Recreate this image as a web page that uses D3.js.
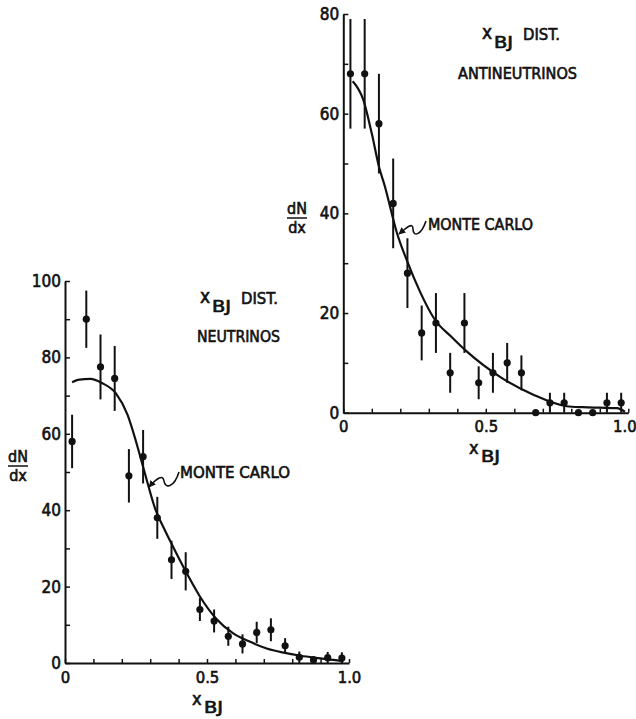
<!DOCTYPE html>
<html>
<head>
<meta charset="utf-8">
<script src="https://cdn.jsdelivr.net/npm/d3@7"></script>
<style>
  html, body { margin: 0; padding: 0; background: #fff; }
  svg text { font-family: "Liberation Sans Narrow", "DejaVu Sans Condensed", "Liberation Sans", sans-serif;
             fill: #111; stroke: #111; stroke-width: 0.6px; }
</style>
</head>
<body>
<svg id="chart" width="636" height="719"></svg>
<script>
// Bin centres in x_BJ (20 bins of width 0.05)
const binX = [0.025, 0.075, 0.125, 0.175, 0.225, 0.275, 0.325, 0.375, 0.425, 0.475,
              0.525, 0.575, 0.625, 0.675, 0.725, 0.775, 0.825, 0.875, 0.925, 0.975];

// Neutrino sample: dN/dx and its statistical error
const nuCounts = [58, 90, 77.5, 74.5, 49, 54, 38, 27, 24, 14, 11, 7, 5, 8, 8.7, 4.5, 1.5, 0.8, 1.4, 1.3];
const nuErrors = [7, 7.5, 8.5, 8.5, 7, 7, 5.5, 5, 5, 3, 3, 2.5, 2.5, 2.8, 3, 2, 1.5, 1, 1.5, 1.5];

// Antineutrino sample
const nubarCounts = [68, 68, 58, 42, 28, 16, 18, 8, 18, 6, 8, 10, 8, 0, 2, 2, 0, 0, 2, 2];
const nubarErrors = [11, 11, 10, 9, 7, 5.5, 6, 4, 6, 3.3, 4, 4, 3.5, 0, 2, 2, 0, 0, 2, 2];

// Monte Carlo predictions
const mcNuX = [0.025, 0.05, 0.09, 0.13, 0.18, 0.22, 0.25, 0.28, 0.317, 0.35, 0.38, 0.43,
               0.475, 0.53, 0.59, 0.65, 0.71, 0.77, 0.83, 0.89, 0.945, 0.98];
const mcNuY = [73.5, 74.2, 74.4, 73.3, 70.5, 65, 58, 50, 40.5, 35, 30.5, 23.3,
               17.4, 11.8, 7.9, 5.6, 3.8, 2.7, 1.9, 1.3, 0.8, 0.4];
const mcNubarX = [0.033, 0.07, 0.1, 0.125, 0.146, 0.17, 0.187, 0.222, 0.269, 0.322, 0.38,
                  0.433, 0.55, 0.667, 0.784, 0.841, 0.9, 0.96, 0.988];
const mcNubarY = [66.5, 62.8, 56, 49.4, 45.4, 40, 36.3, 30.7, 24.3, 18.6, 15.2,
                  12.3, 7.2, 3.6, 1.3, 1.1, 1.0, 0.9, 0.2];

// Axis ticks
const xTicks = [0, 0.1, 0.2, 0.3, 0.4, 0.5, 0.6, 0.7, 0.8, 0.9, 1.0];
const xTickLabels = ["0", "", "", "", "", "0.5", "", "", "", "", "1.0"];
const nuYTicks = [0, 10, 20, 30, 40, 50, 60, 70, 80, 90, 100];
const nubarYTicks = [0, 10, 20, 30, 40, 50, 60, 70, 80];

const svg = d3.select("#chart");

svg.append("defs").append("marker")
  .attr("id", "arrowhead")
  .attr("viewBox", "0 0 10 10")
  .attr("refX", 9).attr("refY", 5)
  .attr("markerWidth", 7).attr("markerHeight", 7)
  .attr("markerUnits", "userSpaceOnUse")
  .attr("orient", "auto")
  .append("path").attr("d", "M0,0 L10,5 L0,10 z").attr("fill", "#111");

function panel(cfg) {
  const x = d3.scaleLinear().domain([0, 1]).range(cfg.xRange);
  const y = d3.scaleLinear().domain([0, cfg.yMax]).range(cfg.yRange);
  const g = svg.append("g");

  // x axis: ticks point inward (up)
  const xa = g.append("g")
    .attr("transform", `translate(0,${y(0)})`)
    .call(d3.axisBottom(x).tickValues(xTicks).tickSize(-4).tickSizeOuter(0)
      .tickPadding(8).tickFormat((d, i) => xTickLabels[i]));
  // y axis: ticks point inward (right)
  const ya = g.append("g")
    .attr("transform", `translate(${x(0)},0)`)
    .call(d3.axisLeft(y).tickValues(cfg.yTicks).tickSize(-5).tickSizeOuter(0)
      .tickPadding(3).tickFormat(d => d % 20 === 0 ? d : ""));
  [xa, ya].forEach(a => {
    a.selectAll("path.domain").attr("stroke", "#111").attr("stroke-width", 2);
    a.selectAll(".tick line").attr("stroke", "#111").attr("stroke-width", 1.5);
    a.selectAll("text").attr("fill", "#111");
  });
  ya.selectAll("text").attr("dx", -1).attr("font-size", 17);
  xa.selectAll("text").attr("font-size", 16.5);
  // the "1.0" label sits against the right edge
  xa.selectAll(".tick text").filter((d, i) => xTickLabels[i] === "1.0").attr("dx", cfg.endShift);

  // Monte Carlo curve
  const line = d3.line().x(d => x(d[0])).y(d => y(d[1])).curve(d3.curveMonotoneX);
  g.append("path")
    .datum(cfg.mcX.map((v, i) => [v, cfg.mcY[i]]))
    .attr("d", line)
    .attr("fill", "none").attr("stroke", "#111").attr("stroke-width", 2.2);

  // error bars
  g.selectAll("line.err").data(binX).join("line")
    .attr("class", "err")
    .attr("x1", d => x(d)).attr("x2", d => x(d))
    .attr("y1", (d, i) => y(cfg.counts[i] + cfg.errors[i]))
    .attr("y2", (d, i) => y(Math.max(0, cfg.counts[i] - cfg.errors[i])))
    .attr("stroke", "#111").attr("stroke-width", 2);

  // data points
  g.selectAll("circle.pt").data(binX).join("circle")
    .attr("class", "pt")
    .attr("cx", d => x(d)).attr("cy", (d, i) => y(cfg.counts[i]))
    .attr("r", 3.6).attr("fill", "#111");

  // dN/dx label
  const lab = g.append("g").attr("transform", `translate(${cfg.dndx[0]},${cfg.dndx[1]})`);
  lab.append("text").attr("x", 0).attr("y", -4).attr("text-anchor", "middle")
    .attr("font-size", 16).text("dN");
  lab.append("line").attr("x1", -10).attr("x2", 10).attr("y1", 0).attr("y2", 0)
    .attr("stroke", "#111").attr("stroke-width", 1.5);
  lab.append("text").attr("x", 0).attr("y", 15).attr("text-anchor", "middle")
    .attr("font-size", 16).text("dx");

  // x_BJ axis title
  g.append("text").attr("x", cfg.xTitle[0]).attr("y", cfg.xTitle[1])
    .attr("font-size", 18).text("x");
  g.append("text").attr("x", cfg.xTitle[0] + 12).attr("y", cfg.xTitle[1] + 8)
    .attr("font-size", 15).attr("textLength", 19).attr("lengthAdjust", "spacingAndGlyphs").text("BJ");

  // panel title
  g.append("text").attr("x", cfg.title[0]).attr("y", cfg.title[1])
    .attr("font-size", 19).text("x");
  g.append("text").attr("x", cfg.title[0] + 12).attr("y", cfg.title[1] + 9)
    .attr("font-size", 15).attr("textLength", 19).attr("lengthAdjust", "spacingAndGlyphs").text("BJ");
  g.append("text").attr("x", cfg.title[0] + 41).attr("y", cfg.title[1] + 1)
    .attr("font-size", 16).attr("textLength", 37).attr("lengthAdjust", "spacingAndGlyphs").text("DIST.");
  g.append("text").attr("x", cfg.sub[0]).attr("y", cfg.sub[1])
    .attr("font-size", 16).attr("textLength", cfg.sub[2]).attr("lengthAdjust", "spacingAndGlyphs")
    .text(cfg.subText);

  // Monte Carlo annotation with curly arrow
  g.append("text").attr("x", cfg.mcLabel[0]).attr("y", cfg.mcLabel[1])
    .attr("font-size", 16).attr("textLength", cfg.mcLabel[2]).attr("lengthAdjust", "spacingAndGlyphs")
    .text("MONTE CARLO");
  g.append("path").attr("d", cfg.arrow)
    .attr("fill", "none").attr("stroke", "#111").attr("stroke-width", 1.6)
    .attr("marker-end", "url(#arrowhead)");
}

panel({
  xRange: [65, 349], yRange: [663, 281], yMax: 100, yTicks: nuYTicks,
  counts: nuCounts, errors: nuErrors, mcX: mcNuX, mcY: mcNuY, endShift: 0,
  dndx: [18, 466], xTitle: [192, 705], title: [200, 303],
  sub: [197, 342, 83], subText: "NEUTRINOS",
  mcLabel: [180, 478, 110],
  arrow: "M179,472 C174,488 165,489 164,481 C163,474 157,478 149,487"
});

panel({
  xRange: [343.3, 628.3], yRange: [412.7, 14], yMax: 80, yTicks: nubarYTicks,
  counts: nubarCounts, errors: nubarErrors, mcX: mcNubarX, mcY: mcNubarY, endShift: -4,
  dndx: [297, 218], xTitle: [469, 454], title: [482, 39],
  sub: [458, 79, 119], subText: "ANTINEUTRINOS",
  mcLabel: [428, 230, 105],
  arrow: "M426,221 C421,236 413,237 413,229 C413,222 407,227 399,234"
});
</script>
</body>
</html>
